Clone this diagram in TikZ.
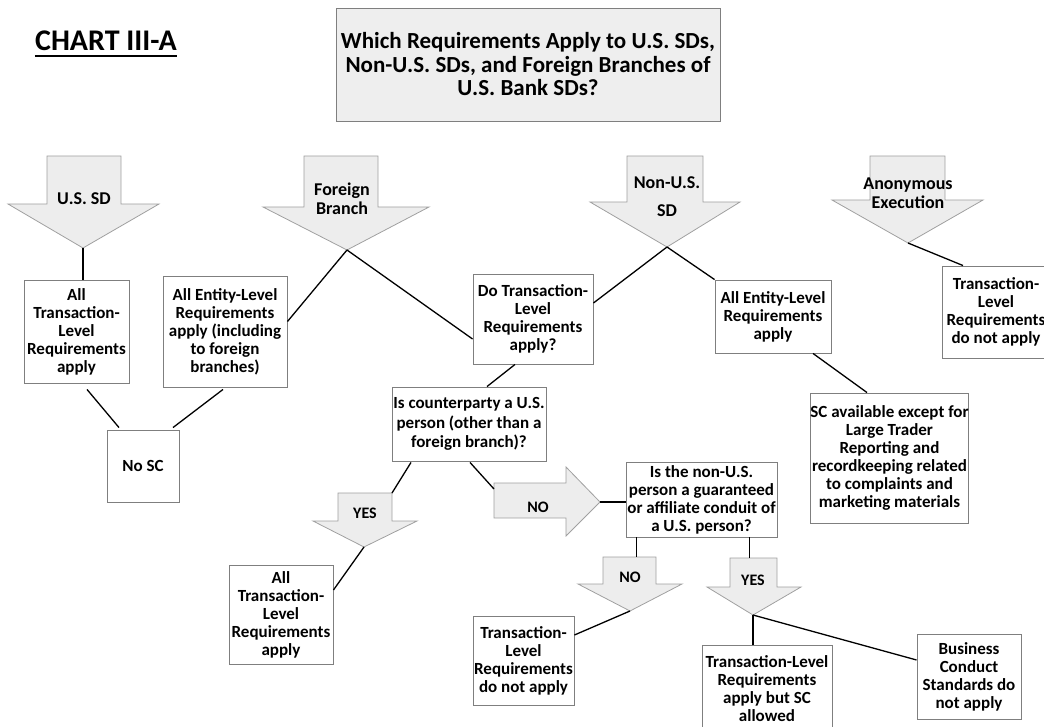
\documentclass[tikz,border=0pt]{standalone}
\usepackage{fontspec}
\setmainfont{Carlito}
\usetikzlibrary{calc}

\definecolor{boxline}{HTML}{7F7F7F}
\definecolor{arrowline}{HTML}{A0A0A0}
\definecolor{arrowfill}{HTML}{EDEDED}
\definecolor{titlefill}{HTML}{EEEEEE}

\newcommand\boxfont{\bfseries\fontsize{17}{18}\selectfont}
\newcommand\labfont{\bfseries\fontsize{18}{19}\selectfont}
\newcommand\smalllabfont{\bfseries\fontsize{16}{17}\selectfont}

% downward block arrow: name, shaft left, shaft right, top, wing, head left, head right, tip x, tip y
\newcommand\blockdown[9]{%
  \draw[blockarrow] (#2,#4) -- (#3,#4) -- (#3,#5) -- (#7,#5) -- (#8,#9)
        -- (#6,#5) -- (#2,#5) -- cycle;
  \coordinate (#1) at (#8,#9);
  \coordinate (#1 nw) at (#2,#4);
  \coordinate (#1 ne) at (#3,#4);
  \coordinate (#1 n) at ($(#1 nw)!0.5!(#1 ne)$);
}

\begin{document}
\begin{tikzpicture}[x=1pt,y=-1pt,
  box/.style={draw=boxline, line width=0.9pt, fill=white, inner sep=0pt,
              align=center, font=\boxfont},
  blockarrow/.style={draw=arrowline, fill=arrowfill, line width=0.8pt, line join=miter},
  conn/.style={draw=black, line width=1.3pt},
  lab/.style={inner sep=0pt, align=center, font=\labfont},
  smalllab/.style={inner sep=0pt, align=center, font=\smalllabfont}]

\useasboundingbox (0,0) rectangle (1044,727);

% heading
\node[inner sep=0pt, font=\bfseries\fontsize{30}{32}\selectfont, anchor=base]
  (chart) at (106,51) {CHART III-A};
\draw[line width=1.8pt] ($(chart.base west)+(0,5)$) -- ($(chart.base east)+(0,5)$);

\node[draw=boxline, fill=titlefill, line width=0.9pt, inner sep=0pt, align=center,
      minimum width=384, minimum height=113,
      font=\bfseries\fontsize{23}{23.5}\selectfont] (title) at (528,64.5)
  {Which Requirements Apply to U.S. SDs,\\Non-U.S. SDs, and Foreign Branches of\\U.S. Bank SDs?};

% block arrows
\blockdown{usd}{47}{121}{156}{204}{8}{159}{83}{248}
\blockdown{fb}{304}{378}{156}{207}{263}{429}{347}{250}
\blockdown{nus}{627}{703}{156}{202}{590}{740}{667}{247}
\blockdown{anon}{870}{945}{156}{200}{832}{983}{908}{243}
\blockdown{yes1}{338}{392}{493}{521}{313}{417}{364}{547}
\blockdown{no2}{603}{656}{557}{584}{578}{682}{630}{611}
\blockdown{yes2}{730}{777}{558}{587}{707}{801}{753}{615}

% rightward block arrow (NO)
\draw[blockarrow] (494,483) -- (566,483) -- (566,467) -- (600,502) -- (566,536)
      -- (566,518) -- (494,518) -- cycle;
\coordinate (no1) at (600,502);
\coordinate (no1 nw) at (494,483);

% arrow labels
\node[lab] (usdlab) at (84,199) {U.S. SD};
\node[lab] (fblab) at (342,199) {Foreign\\Branch};
\node[lab] (nuslab) at (667,197) {Non-U.S.\\[9pt]SD};
\node[lab] (anonlab) at (908,193) {Anonymous\\Execution};
\node[smalllab] (yes1lab) at (365,513) {YES};
\node[smalllab] (no1lab) at (538,507) {NO};
\node[smalllab] (no2lab) at (630,577) {NO};
\node[smalllab] (yes2lab) at (753,580) {YES};

% boxes
\node[box, minimum width=105, minimum height=103] (b1) at (76.5,331.5)
  {All\\Transaction-\\Level\\Requirements\\apply};
\node[box, minimum width=124, minimum height=111] (b2) at (225,331.5)
  {All Entity-Level\\Requirements\\apply (including\\to foreign\\branches)};
\node[box, minimum width=72, minimum height=72] (nosc) at (143,466) {No SC};
\node[box, minimum width=120, minimum height=90] (dotx) at (533,319)
  {Do Transaction-\\Level\\Requirements\\apply?};
\node[box, minimum width=116, minimum height=73] (b4) at (773,316.5)
  {All Entity-Level\\Requirements\\apply};
\node[box, minimum width=157, minimum height=130] (sc) at (889.5,458)
  {SC available except for\\Large Trader\\Reporting and\\recordkeeping related\\to complaints and\\marketing materials};
\node[box, minimum width=108, minimum height=92] (b5) at (996,312)
  {Transaction-\\Level\\Requirements\\do not apply};
\node[box, minimum width=154, minimum height=74, font=\bfseries\fontsize{17}{19.5}\selectfont]
  (cp) at (469,424)
  {Is counterparty a U.S.\\person (other than a\\foreign branch)?};
\node[box, minimum width=151, minimum height=75] (nonus) at (701.5,499.5)
  {Is the non-U.S.\\person a guaranteed\\or affiliate conduit of\\a U.S. person?};
\node[box, minimum width=104, minimum height=99] (b7) at (281,614.5)
  {All\\Transaction-\\Level\\Requirements\\apply};
\node[box, minimum width=101, minimum height=89] (b9) at (523.5,660.5)
  {Transaction-\\Level\\Requirements\\do not apply};
\node[box, minimum width=130, minimum height=87] (b10) at (767,688.5)
  {Transaction-Level\\Requirements\\apply but SC\\allowed};
\node[box, minimum width=104, minimum height=85] (b11) at (969,676.5)
  {Business\\Conduct\\Standards do\\not apply};

% connectors
\draw[conn] (usd) -- (usd |- b1.north);
\draw[conn] ($(b1.south)+(10.5,6)$) -- ($(nosc.north)+(-24,-2)$);
\draw[conn] ($(b2.south)+(-2,2)$) -- ($(nosc.north)+(30,-2)$);
\draw[conn] (fb) -- ($(b2.east)+(0,-10)$);
\draw[conn] (fb) -- ($(dotx.west)+(0,20)$);
\draw[conn] (nus) -- ($(dotx.east)+(0,-16)$);
\draw[conn] (nus) -- (b4.north west);
\draw[conn] ($(b4.south)+(40,0)$) -- ($(sc.north)+(-22.5,0)$);
\draw[conn] (anon) -- ($(b5.north)+(-33,0)$);
\draw[conn] ($(dotx.south)+(-18,0)$) -- ($(cp.north)+(18,0)$);
\draw[conn] ($(cp.south)+(-58,1)$) -- (yes1 ne);
\draw[conn] ($(cp.south)+(1,1)$) -- ($(no1 nw)+(0,6)$);
\draw[conn] (no1) -- (no1 -| nonus.west);
\coordinate (nonusL) at ($(nonus.south west)+(11,0)$);
\coordinate (nonusR) at ($(nonus.south east)+(-28,0)$);
\draw[conn] (nonusL) -- (nonusL |- no2 n);
\draw[conn] (nonusR) -- (nonusR |- yes2 n);
\draw[conn] (yes1) -- ($(b7.east)+(0,-24.5)$);
\draw[conn] (no2) -- ($(b9.east)+(0,-25.5)$);
\draw[conn] (yes2) -- (yes2 |- b10.north);
\draw[conn] (yes2) -- ($(b11.west)+(0,-16.5)$);

\end{tikzpicture}
\end{document}
